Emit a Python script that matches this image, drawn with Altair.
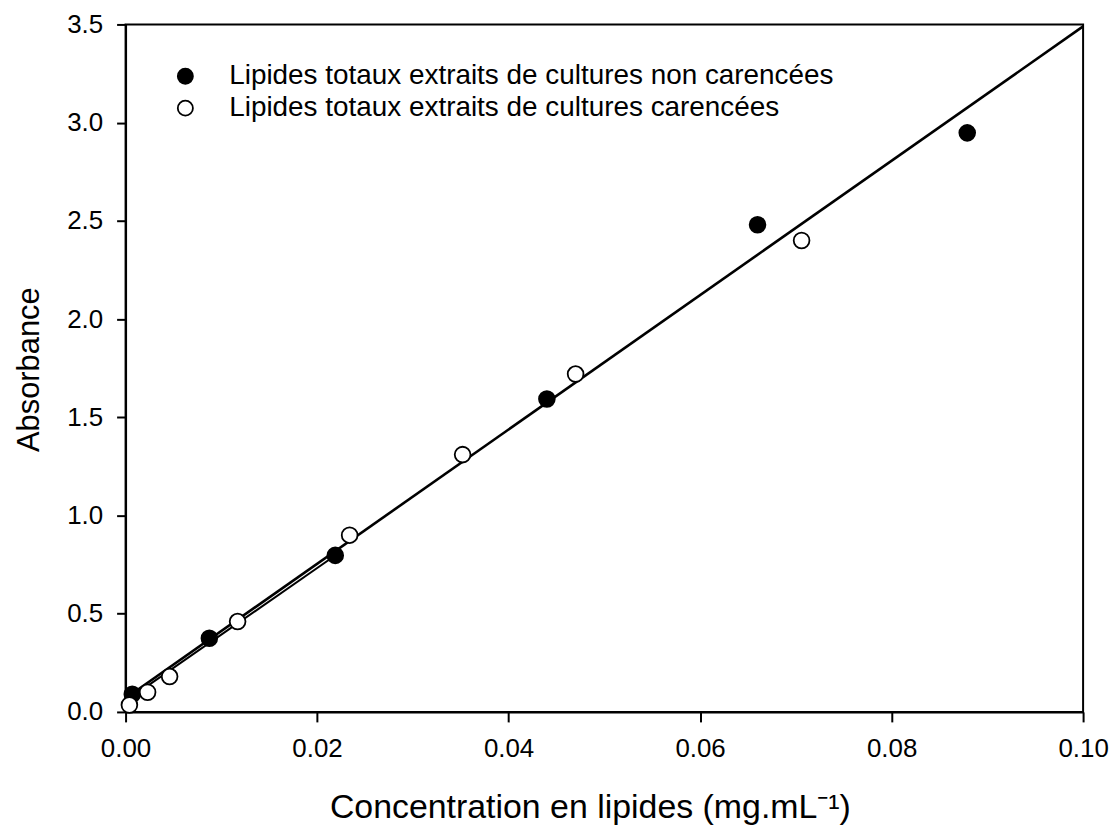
import altair as alt
import pandas as pd

# Data
x_non = [0.0007, 0.00875, 0.0219, 0.0440, 0.0660, 0.0879]
y_non = [0.09, 0.375, 0.797, 1.593, 2.48, 2.948]
x_car = [0.0004, 0.0023, 0.0046, 0.0117, 0.0234, 0.0352, 0.0470, 0.0706]
y_car = [0.035, 0.10, 0.18, 0.46, 0.90, 1.31, 1.72, 2.40]

series_non = "Lipides totaux extraits de cultures non carencées"
series_car = "Lipides totaux extraits de cultures carencées"

# fitted lines (end points)
fit1_x = [0.0, 0.1]
fit1_y = [0.07, 3.49]
fit2_x = [0.0, 0.022]
fit2_y = [0.055, 0.80]

pts = pd.DataFrame({
    "x": x_non + x_car,
    "y": y_non + y_car,
    "serie": [series_non] * len(x_non) + [series_car] * len(x_car),
})
fit1 = pd.DataFrame({"x": fit1_x, "y": fit1_y})
fit2 = pd.DataFrame({"x": fit2_x, "y": fit2_y})

FONT = "Liberation Sans"

xscale = alt.Scale(domain=[0, 0.1], nice=False, zero=False)
yscale = alt.Scale(domain=[0, 3.5], nice=False, zero=False)

xaxis = alt.Axis(
    title="Concentration en lipides (mg.mL⁻¹)",
    values=[0, 0.02, 0.04, 0.06, 0.08, 0.10],
    format=".2f",
    grid=False,
    tickSize=10, tickWidth=2, tickColor="black",
    domainColor="black", domainWidth=2,
    labelFontSize=26, labelFont=FONT, labelColor="black", labelPadding=14,
    labelOverlap=False, labelFlush=False,
    titleFontSize=34, titleFont=FONT, titleFontWeight="normal", titleColor="black",
    titleX=466, titleAlign="center", titleY=106, titleBaseline="alphabetic",
)
yaxis = alt.Axis(
    title="Absorbance",
    values=[0, 0.5, 1.0, 1.5, 2.0, 2.5, 3.0, 3.5],
    format=".1f",
    grid=False,
    tickSize=9, tickWidth=2, tickColor="black",
    domainColor="black", domainWidth=2,
    labelFontSize=26, labelFont=FONT, labelColor="black", labelPadding=14,
    labelOverlap=False, labelFlush=False,
    titleFontSize=31, titleFont=FONT, titleFontWeight="normal", titleColor="black",
    titleX=-96, titleY=346, titleBaseline="middle", titleAngle=-90,
)

line1 = alt.Chart(fit1).mark_line(color="black", strokeWidth=2.6).encode(
    x=alt.X("x:Q", scale=xscale, axis=xaxis),
    y=alt.Y("y:Q", scale=yscale, axis=yaxis),
)
line2 = alt.Chart(fit2).mark_line(color="black", strokeWidth=2.0).encode(
    x=alt.X("x:Q", scale=xscale),
    y=alt.Y("y:Q", scale=yscale),
)

points = alt.Chart(pts).mark_point(
    shape="circle", filled=True, size=250, stroke="black", strokeWidth=1.8, opacity=1
).encode(
    x=alt.X("x:Q", scale=xscale),
    y=alt.Y("y:Q", scale=yscale),
    fill=alt.Fill(
        "serie:N",
        scale=alt.Scale(domain=[series_non, series_car], range=["black", "white"]),
        legend=alt.Legend(
            title=None,
            orient="none",
            legendX=46,
            legendY=38,
            padding=0,
            symbolType="circle",
            symbolSize=230,
            symbolStrokeColor="black",
            symbolStrokeWidth=1.8,
            symbolOpacity=1,
            labelFontSize=28,
            labelFont=FONT,
            labelColor="black",
            labelOffset=30,
            rowPadding=4,
            labelLimit=800,
        ),
    ),
)

chart = alt.layer(line1, line2, points).properties(
    width=961,
    height=690,
    autosize=alt.AutoSizeParams(type="none"),
    padding={"left": 118, "top": 15, "right": 26, "bottom": 117},
    background="white",
).configure_view(stroke="black", strokeWidth=2)

chart.save("out.html", embed_options={"renderer": "svg", "actions": False})
